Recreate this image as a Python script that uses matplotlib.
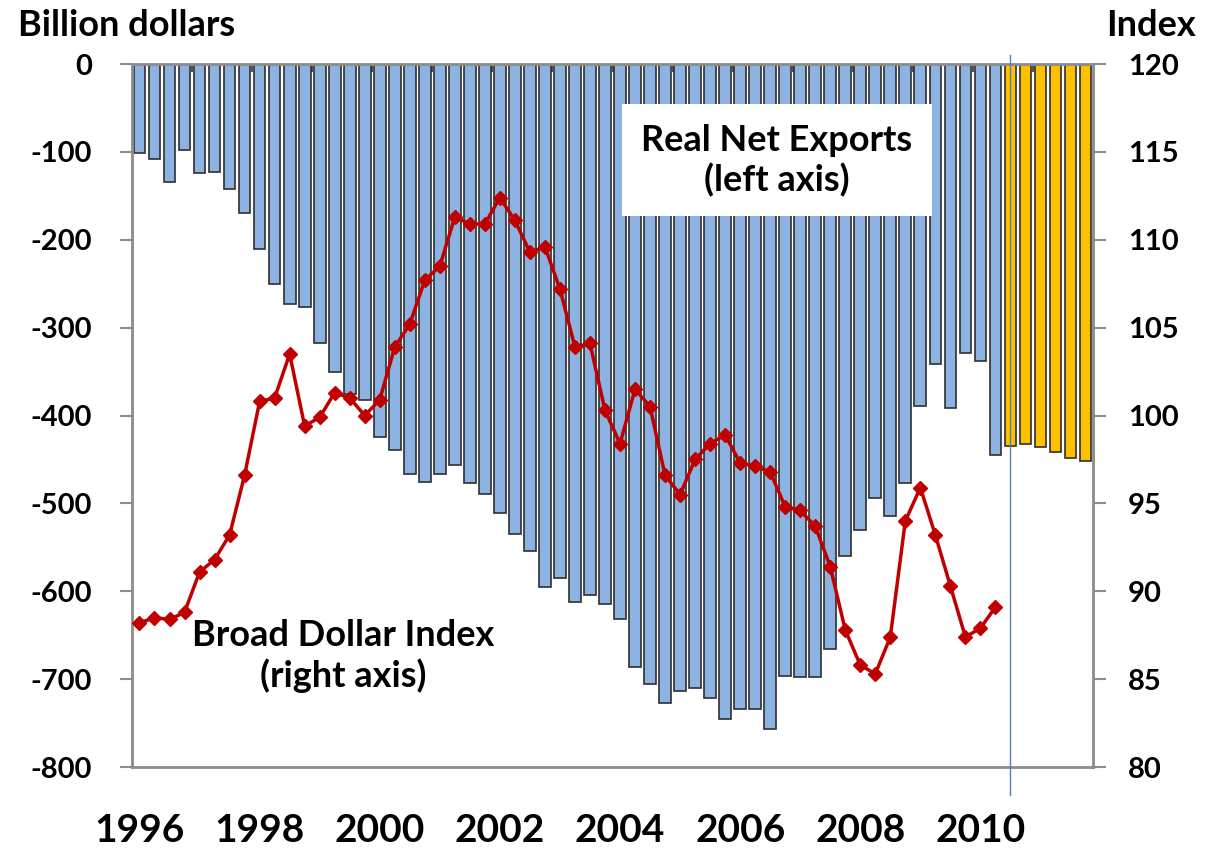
import numpy as np
import matplotlib
matplotlib.use("Agg")
import matplotlib.pyplot as plt

plt.rcParams["font.family"] = ["Lato", "DejaVu Sans"]
plt.rcParams["font.weight"] = "bold"

# Quarterly, 1996Q1 .. 2011Q4 (last 6 quarters are projections)
net_exports = [
    -101, -108, -134, -98, -124, -123, -142, -169,
    -210, -250, -273, -276, -318, -350, -375, -382,
    -424, -439, -467, -476, -466, -456, -477, -489,
    -511, -535, -554, -595, -585, -612, -604, -615,
    -632, -686, -705, -727, -714, -710, -722, -745,
    -734, -734, -757, -696, -697, -697, -666, -560,
    -530, -494, -514, -477, -389, -341, -391, -329,
    -338, -445,
]
net_exports_proj = [-435, -432, -436, -442, -448, -452]

dollar_index = [
    88.2, 88.5, 88.4, 88.8, 91.1, 91.8, 93.2, 96.6,
    100.8, 101.0, 103.5, 99.4, 99.9, 101.3, 101.0, 100.0,
    100.9, 103.9, 105.2, 107.7, 108.5, 111.3, 110.9, 110.9,
    112.4, 111.1, 109.3, 109.6, 107.2, 103.9, 104.1, 100.3,
    98.4, 101.5, 100.5, 96.6, 95.5, 97.5, 98.4, 98.9,
    97.3, 97.1, 96.8, 94.8, 94.6, 93.7, 91.4, 87.8,
    85.8, 85.3, 87.4, 94.0, 95.9, 93.2, 90.3, 87.4,
    87.9, 89.1,
]

year_labels = ["1996", "1998", "2000", "2002", "2004", "2006", "2008", "2010"]
left_ticks = [0, -100, -200, -300, -400, -500, -600, -700, -800]
right_ticks = [120, 115, 110, 105, 100, 95, 90, 85, 80]

BLUE = "#8DB3E2"
GOLD = "#FFC000"
RED = "#C00000"
GRAY = "#8C8C8C"


def main():
    fig = plt.figure(figsize=(12.13, 8.55), dpi=100)
    ax = fig.add_axes([0.1088, 0.1029, 0.7923, 0.8222])

    n_hist = len(net_exports)
    x_hist = np.arange(n_hist)
    x_proj = np.arange(n_hist, n_hist + len(net_exports_proj))

    ax.bar(x_hist, net_exports, width=0.78, color=BLUE,
           edgecolor="#2f2f2f", linewidth=1.2, zorder=2)
    ax.bar(x_proj, net_exports_proj, width=0.78, color=GOLD,
           edgecolor="#2f2f2f", linewidth=1.2, zorder=2)

    ax.set_xlim(-0.5, n_hist + len(net_exports_proj) - 0.5)
    ax.set_ylim(-800, 0)
    ax.set_yticks(left_ticks)
    ax.set_yticklabels([str(v) for v in left_ticks])

    # year boundary ticks sit on the zero line (top)
    ax.xaxis.set_ticks_position("top")
    ax.set_xticks(np.arange(3.5, x_proj[-1], 4))
    ax.tick_params(axis="x", direction="in", length=6, width=1.5,
                   color="#555555", labeltop=False, labelbottom=False)
    ax.tick_params(axis="y", direction="out", length=9, width=1.5,
                   color=GRAY, labelsize=21, pad=20)

    for s in ax.spines.values():
        s.set_color(GRAY)
        s.set_linewidth(2)

    # year labels well below the plot
    for i, lab in enumerate(year_labels):
        ax.text(i * 8, -0.09, lab, transform=ax.get_xaxis_transform(),
                ha="center", va="center", fontsize=28, fontweight="bold")

    # projection divider
    ax.axvline(n_hist, ymin=-0.04, ymax=1.013, color="#4F81BD",
               linewidth=1, clip_on=False, zorder=3)

    ax2 = ax.twinx()
    ax2.plot(x_hist, dollar_index, color=RED, linewidth=2.5,
             marker="D", markersize=7.5, zorder=4)
    ax2.set_ylim(80, 120)
    ax2.set_yticks(right_ticks)
    ax2.tick_params(axis="y", direction="out", length=9, width=1.5,
                    color=GRAY, labelsize=21, pad=16)
    for s in ax2.spines.values():
        s.set_visible(False)

    ax.text(0.671, 0.863, "Real Net Exports\n(left axis)", transform=ax.transAxes,
            ha="center", va="center", fontsize=26, fontweight="bold",
            linespacing=1.2, zorder=5,
            bbox=dict(facecolor="white", edgecolor="none", pad=14))
    ax.text(0.2196, 0.158, "Broad Dollar Index\n(right axis)", transform=ax.transAxes,
            ha="center", va="center", fontsize=26, fontweight="bold",
            linespacing=1.2, zorder=5)

    fig.text(0.015, 0.970, "Billion dollars", ha="left", va="center",
             fontsize=26, fontweight="bold")
    fig.text(0.986, 0.970, "Index", ha="right", va="center",
             fontsize=26, fontweight="bold")

    fig.savefig("out.png", dpi=100)
    plt.close(fig)


if __name__ == "__main__":
    main()
